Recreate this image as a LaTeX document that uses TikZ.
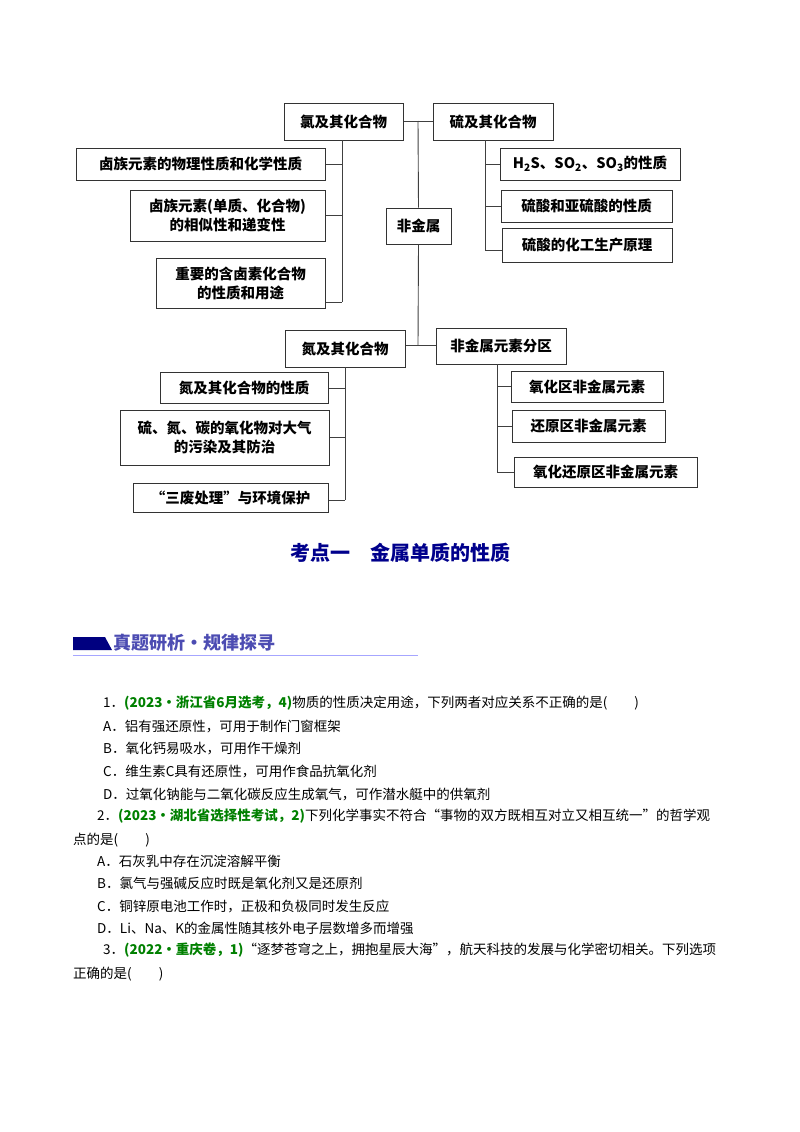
\documentclass[tikz,border=0pt]{standalone}
\usepackage{fontspec}
\setmainfont{Noto Sans CJK SC}
\newfontfamily\cjk{Noto Sans CJK SC}
\begin{document}
\begin{tikzpicture}[x=1pt,y=-1pt,
  bx/.style={draw=black!80,line width=1pt,font=\fontsize{14.5}{19}\selectfont\bfseries,align=center,inner sep=0pt},
  ln/.style={draw=black!75,line width=0.9pt},
  q/.style={anchor=west,font=\fontsize{13.5}{16}\selectfont,inner sep=0pt},
  gr/.style={text=green!50!black,font=\fontsize{13.5}{16}\selectfont\bfseries}]
\useasboundingbox (0,0) rectangle (800,1132);
\def\B#1#2#3#4#5#6{\node[bx,minimum width=#4-#2,minimum height=#5-#3] (#1) at ({(#2+#4)/2},{(#3+#5)/2}) {#6};}
\B{cl}{284}{103}{403}{140}{氯及其化合物}
\B{s}{433}{103}{553}{140}{硫及其化合物}
\B{c1}{76}{148}{325}{180}{卤族元素的物理性质和化学性质}
\B{c2}{130}{190}{325}{241}{卤族元素(单质、化合物)\\的相似性和递变性}
\B{c3}{156}{258}{325}{308}{重要的含卤素化合物\\的性质和用途}
\B{fm}{386}{208}{451}{244}{非金属}
\B{s1}{500}{148}{680}{180}{H\textsubscript{2}S、SO\textsubscript{2}、SO\textsubscript{3}的性质}
\B{s2}{501}{190}{672}{222}{硫酸和亚硫酸的性质}
\B{s3}{502}{228}{672}{262}{硫酸的化工生产原理}
\B{n}{285}{330}{405}{367}{氮及其化合物}
\B{fq}{436}{328}{566}{364}{非金属元素分区}
\B{n1}{160}{372}{328}{403}{氮及其化合物的性质}
\B{n2}{120}{410}{329}{465}{硫、氮、碳的氧化物对大气\\的污染及其防治}
\B{n3}{133}{483}{328}{512}{“三废处理”与环境保护}
\B{f1}{511}{371}{663}{402}{氧化区非金属元素}
\B{f2}{512}{410}{665}{442}{还原区非金属元素}
\B{f3}{514}{457}{697}{487}{氧化还原区非金属元素}
% center
\coordinate (t) at (418,121); \coordinate (b) at (418,345);
\draw[ln] (t) -- (fm.north); \draw[ln] (fm.south) -- (b);
\draw[ln] (cl.east) -- (s.west);
\draw[ln] (b -| n.east) -- (b -| fq.west);
% left top
\draw[ln] (342,140) -- (342,302);
\foreach \k/\y in {c1/164,c2/215,c3/302}{\draw[ln] (\k.east |- 0,\y) -- (342,\y);}
% right top
\draw[ln] (485,140) -- (485,250);
\foreach \k/\y in {s1/164,s2/206,s3/250}{\draw[ln] (485,\y) -- (\k.west |- 0,\y);}
% bottom left
\draw[ln] (345,367) -- (345,500);
\foreach \k/\y in {n1/388,n2/437,n3/500}{\draw[ln] (\k.east |- 0,\y) -- (345,\y);}
% bottom right
\draw[ln] (497,364) -- (497,472);
\foreach \k/\y in {f1/386,f2/426,f3/472}{\draw[ln] (497,\y) -- (\k.west |- 0,\y);}
% title
\node[text=blue!55!black,font=\fontsize{20}{22}\selectfont\bfseries] (title) at (400,553) {考点一\quad 金属单质的性质};
% banner
\fill[blue!50!black] (73,637) -- (105,637) -- (112,650) -- (73,650) -- cycle;
\draw[blue!35,line width=0.8pt] (73,655) -- (418,655);
\node[anchor=west,inner sep=0pt,text=blue!40!gray,font=\fontsize{18}{20}\selectfont\bfseries] (ban) at (113,643) {真题研析·规律探寻};
% questions
\node[q] (q1) at (103,703) {1．{\color{green!50!black}\bfseries (2023•浙江省6月选考，4)}物质的性质决定用途，下列两者对应关系不正确的是(\qquad )};
\node[q] (q1a) at (103,727) {A．铝有强还原性，可用于制作门窗框架};
\node[q] (q1b) at (103,749) {B．氧化钙易吸水，可用作干燥剂};
\node[q] (q1c) at (103,771) {C．维生素C具有还原性，可用作食品抗氧化剂};
\node[q] (q1d) at (103,794) {D．过氧化钠能与二氧化碳反应生成氧气，可作潜水艇中的供氧剂};
\node[q] (q2) at (97,816) {2．{\color{green!50!black}\bfseries (2023•湖北省选择性考试，2)}下列化学事实不符合“事物的双方既相互对立又相互统一”的哲学观};
\node[q] (q2x) at (73,840) {点的是(\qquad )};
\node[q] (q2a) at (97,861) {A．石灰乳中存在沉淀溶解平衡};
\node[q] (q2b) at (97,883) {B．氯气与强碱反应时既是氧化剂又是还原剂};
\node[q] (q2c) at (97,906) {C．铜锌原电池工作时，正极和负极同时发生反应};
\node[q] (q2d) at (97,928) {D．Li、Na、K的金属性随其核外电子层数增多而增强};
\node[q] (q3) at (103,950) {3．{\color{green!50!black}\bfseries (2022•重庆卷，1)}“逐梦苍穹之上，拥抱星辰大海”，航天科技的发展与化学密切相关。下列选项};
\node[q] (q3x) at (73,974) {正确的是(\qquad )};
\end{tikzpicture}
\end{document}
